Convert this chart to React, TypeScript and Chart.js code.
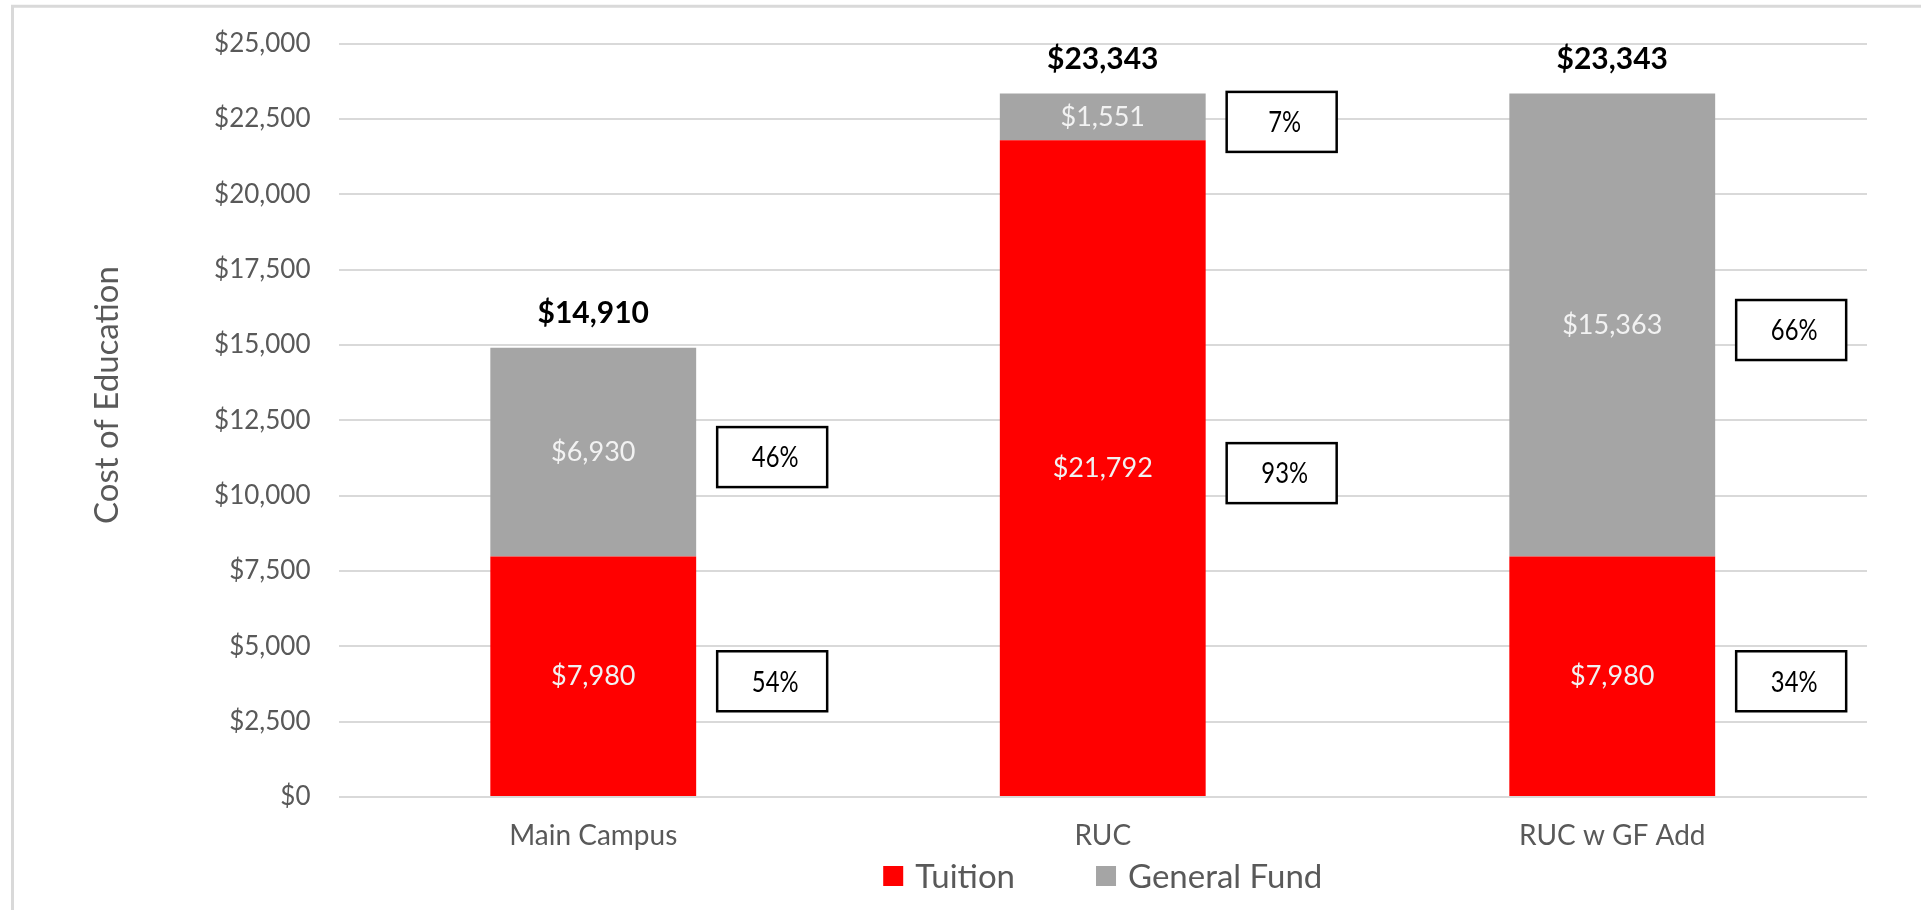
import React, { useEffect, useRef } from 'react';
import { Chart, registerables } from 'chart.js';

Chart.register(...registerables);

// ---- data ----
const categories = ['Main Campus', 'RUC', 'RUC w GF Add'];
const tuition = [7980, 21792, 7980];
const generalFund = [6930, 1551, 15363];
const seriesNames = ['Tuition', 'General Fund'];
const seriesColors = ['#FF0000', '#A5A5A5'];
const yMin = 0;
const yMax = 25000;
const yStep = 2500;
const yAxisTitle = 'Cost of Education';

const FONT = 'Lato, "Open Sans", "DejaVu Sans", sans-serif';
const TEXT_GRAY = '#595959';

const fmtMoney = (v: number) => '$' + Math.round(v).toLocaleString('en-US');

const annotationPlugin = {
  id: 'excelAnnotations',
  beforeDraw(chart: any) {
    const ctx = chart.ctx;
    ctx.save();
    ctx.fillStyle = '#FFFFFF';
    ctx.fillRect(0, 0, chart.width, chart.height);
    // outer chart frame (top and left edges visible)
    ctx.strokeStyle = '#D9D9D9';
    ctx.lineWidth = 3;
    ctx.beginPath();
    ctx.moveTo(12.5, chart.height + 5);
    ctx.lineTo(12.5, 6.3);
    ctx.lineTo(chart.width + 5, 6.3);
    ctx.stroke();
    ctx.restore();
  },
  afterDatasetsDraw(chart: any) {
    const ctx = chart.ctx;
    const datasets = chart.data.datasets;
    const totals = categories.map((_, i) =>
      datasets.reduce((s: number, ds: any) => s + (ds.data[i] as number), 0)
    );

    ctx.save();
    datasets.forEach((ds: any, di: number) => {
      const meta = chart.getDatasetMeta(di);
      meta.data.forEach((bar: any, i: number) => {
        const { x, y, base, width } = bar.getProps(['x', 'y', 'base', 'width'], true);
        const cy = (y + base) / 2;
        const value = ds.data[i] as number;

        // value label inside segment
        ctx.font = `27px ${FONT}`;
        ctx.fillStyle = '#F2F2F2';
        ctx.textAlign = 'center';
        ctx.textBaseline = 'middle';
        ctx.fillText(fmtMoney(value), x, cy);

        // percentage callout box
        const pct = Math.round((value / totals[i]) * 100) + '%';
        const bw = 110;
        const bh = 60;
        const bx = x + width / 2 + 21;
        const by = cy + 5 - bh / 2;
        ctx.fillStyle = '#FFFFFF';
        ctx.fillRect(bx, by, bw, bh);
        ctx.lineWidth = 2.5;
        ctx.strokeStyle = '#000000';
        ctx.strokeRect(bx, by, bw, bh);
        ctx.save();
        ctx.translate(bx + bw / 2 + 3, by + bh / 2 + 1);
        ctx.scale(0.82, 1);
        ctx.font = `29px ${FONT}`;
        ctx.fillStyle = '#000000';
        ctx.textAlign = 'center';
        ctx.textBaseline = 'middle';
        ctx.fillText(pct, 0, 0);
        ctx.restore();
      });
    });

    // totals above stacks
    const topMeta = chart.getDatasetMeta(datasets.length - 1);
    topMeta.data.forEach((bar: any, i: number) => {
      const { x, y } = bar.getProps(['x', 'y'], true);
      ctx.font = `bold 30px ${FONT}`;
      ctx.fillStyle = '#000000';
      ctx.textAlign = 'center';
      ctx.textBaseline = 'middle';
      ctx.fillText(fmtMoney(totals[i]), x, y - 34);
    });

    // y axis title
    const area = chart.chartArea;
    ctx.save();
    ctx.translate(107, 395);
    ctx.rotate(-Math.PI / 2);
    ctx.font = `33px ${FONT}`;
    ctx.fillStyle = TEXT_GRAY;
    ctx.textAlign = 'center';
    ctx.textBaseline = 'middle';
    ctx.fillText(yAxisTitle, 0, 0);
    ctx.restore();

    // legend
    const legendY = 876;
    const box = 20;
    const gapText = 12;
    const gapItem = 81;
    ctx.font = `33px ${FONT}`;
    const widths = datasets.map((ds: any) => box + gapText + ctx.measureText(ds.label).width);
    const total = widths.reduce((a: number, b: number) => a + b, 0) + gapItem * (widths.length - 1);
    let lx = (area.left + area.right) / 2 - total / 2;
    datasets.forEach((ds: any, di: number) => {
      ctx.fillStyle = ds.backgroundColor;
      ctx.fillRect(lx, legendY - box / 2, box, box);
      ctx.fillStyle = TEXT_GRAY;
      ctx.textAlign = 'left';
      ctx.textBaseline = 'middle';
      ctx.fillText(ds.label, lx + box + gapText, legendY + 1);
      lx += widths[di] + gapItem;
    });
    ctx.restore();
  },
};

export default function App() {
  const canvasRef = useRef<HTMLCanvasElement | null>(null);

  useEffect(() => {
    if (!canvasRef.current) return;
    Chart.defaults.font.family = FONT;
    const chart = new Chart(canvasRef.current, {
      type: 'bar',
      data: {
        labels: categories,
        datasets: [
          {
            label: seriesNames[0],
            data: tuition,
            backgroundColor: seriesColors[0],
            borderWidth: 0,
            barPercentage: 0.404,
            categoryPercentage: 1,
          },
          {
            label: seriesNames[1],
            data: generalFund,
            backgroundColor: seriesColors[1],
            borderWidth: 0,
            barPercentage: 0.404,
            categoryPercentage: 1,
          },
        ],
      },
      options: {
        animation: false,
        responsive: true,
        maintainAspectRatio: false,
        layout: { padding: { top: 33, right: 54, bottom: 0, left: 0 } },
        plugins: {
          legend: { display: false },
          tooltip: { enabled: false },
          title: { display: false },
        },
        scales: {
          x: {
            stacked: true,
            grid: { display: false, drawTicks: false },
            border: { display: false },
            ticks: {
              color: TEXT_GRAY,
              font: { size: 28, family: FONT },
              padding: 22,
            },
            afterFit: (scale: any) => {
              scale.height = 113;
            },
          },
          y: {
            stacked: true,
            min: yMin,
            max: yMax,
            grid: { color: '#D9D9D9', lineWidth: 2, drawTicks: false },
            border: { display: false },
            ticks: {
              stepSize: yStep,
              color: TEXT_GRAY,
              font: { size: 26, family: FONT },
              padding: 28,
              callback: (v: any) => fmtMoney(Number(v)),
            },
            afterFit: (scale: any) => {
              scale.width = 338.5;
            },
          },
        },
      },
      plugins: [annotationPlugin],
    });
    return () => chart.destroy();
  }, []);

  return (
    <div
      style={{
        position: 'fixed',
        left: 0,
        top: 0,
        width: '1921px',
        height: '910px',
        background: '#FFFFFF',
      }}
    >
      <canvas ref={canvasRef} />
    </div>
  );
}
